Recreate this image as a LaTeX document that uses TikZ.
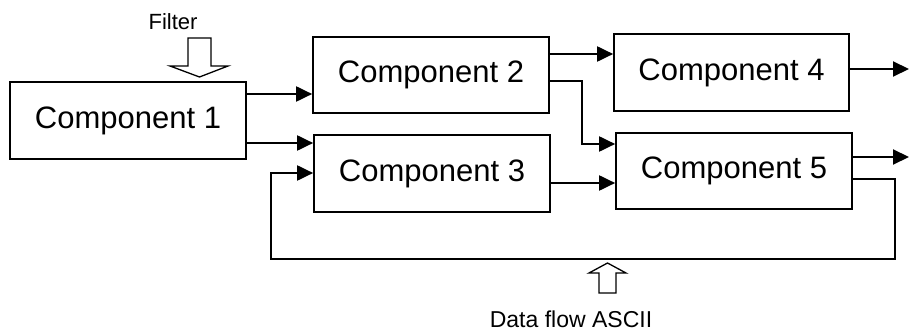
\documentclass[tikz,border=0pt]{standalone}
\usepackage{fontspec}
\setmainfont{Liberation Sans}
\usetikzlibrary{arrows.meta}
\tikzset{
  comp/.style={draw, line width=1.7pt, inner sep=0pt, font=\fontsize{31}{37}\selectfont},
  arr/.style={line width=2pt, -{Triangle[length=16pt,width=15pt]}},
  blockarrow/.style={draw, line width=1.3pt, fill=white, line join=miter},
  lbl/.style={inner sep=0pt}
}
\begin{document}
\begin{tikzpicture}[x=1pt,y=-1pt]
\useasboundingbox (0,0) rectangle (909,331);
% components
\node[comp, minimum width=236pt, minimum height=77pt] (c1) at (128,120.5) {Component 1};
\node[comp, minimum width=236pt, minimum height=76pt] (c2) at (431,75) {Component 2};
\node[comp, minimum width=236pt, minimum height=77pt] (c3) at (432,173.5) {Component 3};
\node[comp, minimum width=235pt, minimum height=77pt] (c4) at (731.5,72.5) {Component 4};
\node[comp, minimum width=236pt, minimum height=76pt] (c5) at (734,171) {Component 5};
% labels
\node[lbl, font=\fontsize{22}{26}\selectfont] (filter) at (173,22) {Filter};
\node[lbl, font=\fontsize{23}{27}\selectfont] (dataflow) at (571,319) {Data flow ASCII};
% free ends
\coordinate (o4) at (909,69);
\coordinate (o5) at (909,157);
% connectors
\draw[arr] (c1.east |- 0,94) -- (c2.west |- 0,94);
\draw[arr] (c1.east |- 0,143) -- (c3.west |- 0,143);
\draw[arr] (c2.east |- 0,54) -- (c4.west |- 0,54);
\draw[arr] (c2.east |- 0,81) -- (582,81) -- (582,144) -- (c5.west |- 0,144);
\draw[arr] (c3.east |- 0,183) -- (c5.west |- 0,183);
\draw[arr] (c4.east |- o4) -- (o4);
\draw[arr] (c5.east |- o5) -- (o5);
\draw[arr] (c5.east |- 0,179) -- (895,179) -- (895,259) -- (271,259) -- (271,173) -- (c3.west |- 0,173);
% block arrows
\draw[blockarrow] (188,38) -- (211,38) -- (211,66) -- (228,66) -- (199.5,77) -- (170,66) -- (188,66) -- cycle;
\draw[blockarrow] (599,293) -- (616,293) -- (616,273) -- (626,273) -- (607.5,263) -- (589,273) -- (599,273) -- cycle;
\end{tikzpicture}
\end{document}
